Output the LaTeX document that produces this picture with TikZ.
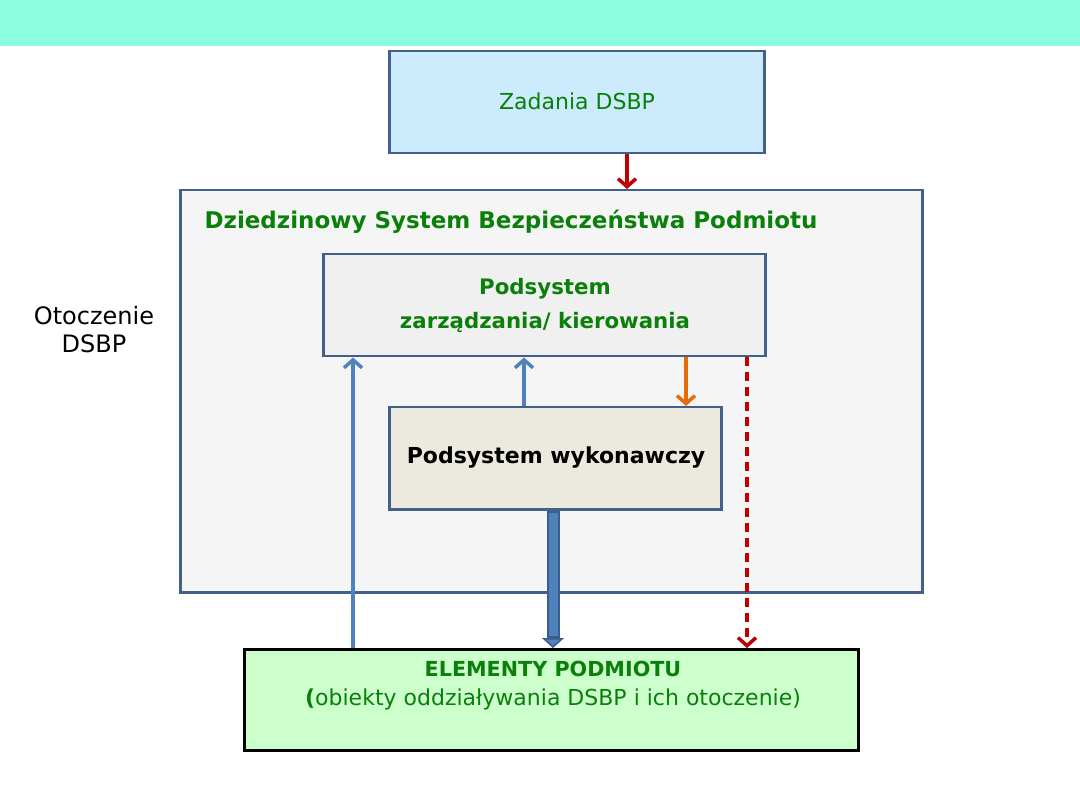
\documentclass[tikz,border=0pt]{standalone}
\usepackage{fontspec}
\setmainfont{DejaVu Sans}
\usetikzlibrary{arrows.meta,calc}
\definecolor{band}{HTML}{8BFFE0}
\definecolor{bord}{HTML}{41608C}
\definecolor{tgreen}{HTML}{0A800A}
\definecolor{zadfill}{HTML}{CCEBFC}
\definecolor{outfill}{HTML}{F5F5F6}
\definecolor{zarfill}{HTML}{F0F0F0}
\definecolor{wykfill}{HTML}{ECEADF}
\definecolor{elfill}{HTML}{CCFFCC}
\definecolor{ablue}{HTML}{4F81BD}
\definecolor{ablued}{HTML}{3A5F8E}
\definecolor{aorange}{HTML}{E46C0A}
\definecolor{ared}{HTML}{C00000}
\tikzset{
  boxst/.style={draw=bord, line width=2.5pt, inner sep=0pt, anchor=north west},
  barb/.style={-{Straight Barb[length=8pt,width=18pt]}, line width=3.5pt},
  gtext/.style={text=tgreen, font=\fontsize{22}{26}\selectfont},
}
\begin{document}
\begin{tikzpicture}[x=1pt,y=-1pt]
\useasboundingbox (0,0) rectangle (1080,810);
\fill[white] (0,0) rectangle (1080,810);
\fill[band] (0,0) rectangle (1080,46);
% Zadania
\node[boxst, fill=zadfill, minimum width=375pt, minimum height=102pt] (zad) at (388,50) {};
\node[gtext] (zadt) at (577,101) {Zadania DSBP};
% outer system
\node[boxst, fill=outfill, minimum width=742pt, minimum height=402pt] (dsbp) at (179,189) {};
\node[text=tgreen, font=\fontsize{23}{26}\selectfont\bfseries, anchor=west] (dsbpt) at (201,222) {Dziedzinowy System Bezpieczeństwa Podmiotu};
% zarzadzania
\node[boxst, fill=zarfill, minimum width=442pt, minimum height=102pt] (zar) at (322,253) {};
\node[text=tgreen, font=\fontsize{21.3}{34}\selectfont\bfseries, align=center] (zart) at (545,305) {Podsystem\\zarządzania/ kierowania};
% wykonawczy
\node[boxst, fill=wykfill, minimum width=332pt, minimum height=102pt] (wyk) at (388,406) {};
\node[font=\fontsize{22}{26}\selectfont\bfseries] (wykt) at (556,458) {Podsystem wykonawczy};
% elementy
\node[draw=black, line width=2.5pt, fill=elfill, inner sep=0pt, anchor=north west, minimum width=614pt, minimum height=101pt] (el) at (243,648) {};
\node[text=tgreen, font=\fontsize{22}{29}\selectfont, align=center, anchor=north] (elt) at (553,658) {{\fontsize{20.7}{29}\selectfont\bfseries ELEMENTY PODMIOTU}\\{\bfseries(}obiekty oddziaływania DSBP i ich otoczenie)};
% otoczenie
\node[font=\fontsize{24}{28}\selectfont, align=center] (oto) at (94,330) {Otoczenie\\DSBP};
% connectors
\draw[barb, ared] (zad.south -| 627,0) -- (dsbp.north -| 627,0);
\draw[barb, ablue] (el.north -| 353,0) -- (zar.south -| 353,0);
\draw[barb, ablue] (wyk.north -| 524,0) -- (zar.south -| 524,0);
\draw[barb, aorange] (zar.south -| 686,0) -- (wyk.north -| 686,0);
\draw[barb, ared, dash pattern=on 9pt off 6pt] (zar.south -| 747,0) -- (el.north -| 747,0);
\draw[ablued, line width=13pt, -{Triangle[width=22pt,length=10pt,line width=1.5pt,fill=ablue]}] (wyk.south -| 553,0) -- (el.north -| 553,0);
\draw[ablue, line width=9pt] ($(wyk.south -| 553,0)+(0,2)$) -- ($(el.north -| 553,0)+(0,-12)$);
\end{tikzpicture}
\end{document}
